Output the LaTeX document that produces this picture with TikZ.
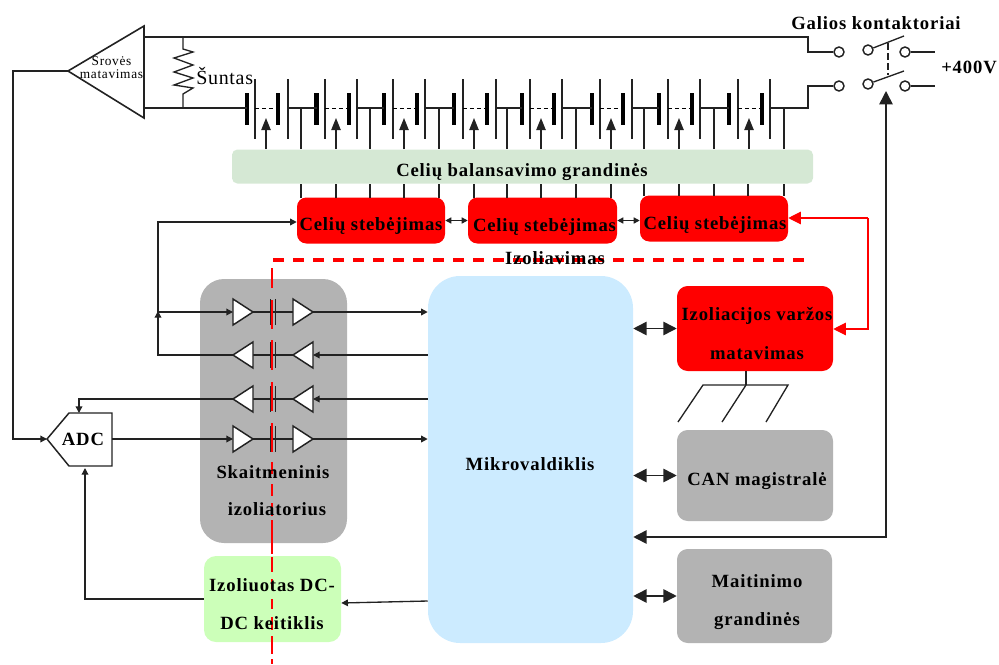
\documentclass[tikz,border=0pt]{standalone}
\usepackage{fontspec}
\setmainfont{Liberation Serif}
\newfontfamily\lbl[LetterSpace=4.5,BoldFont={Liberation Serif Bold}]{Liberation Serif}
\newfontfamily\lblsm[LetterSpace=5]{Liberation Serif}
\usetikzlibrary{arrows.meta,calc}
\definecolor{gbar}{HTML}{D5E8D4}
\definecolor{gbox}{HTML}{B3B3B3}
\definecolor{bbox}{HTML}{CCEBFF}
\definecolor{lgreen}{HTML}{CCFFB9}
\definecolor{wire}{HTML}{222222}
\tikzset{
 x=0.75pt,y=-0.75pt,
 wire/.style={draw=wire,line width=1pt},
 lead/.style={wire,-{Triangle[length=5pt,width=5pt]}},
 lead2/.style={wire,{Triangle[length=4.5pt,width=4.5pt]}-{Triangle[length=4.5pt,width=4.5pt]}},
 big2/.style={wire,line width=1.2pt,{Triangle[length=10pt,width=10pt]}-{Triangle[length=10pt,width=10pt]}},
 redlead/.style={draw=red,line width=0.8pt,-{Triangle[length=9.5pt,width=9.5pt]}},
 box/.style={inner sep=0pt,rounded corners=#1,draw=none,align=center},
 box/.default=8pt,
 txt/.style={font=\lbl\bfseries\fontsize{14}{15}\selectfont,text=black,inner sep=0pt,text height=9pt,text depth=3pt},
 sep/.style={draw=red,line width=2.4pt},
 sepv/.style={draw=red,line width=2.1pt},
 tri/.style={draw=wire,fill=white,line width=1.1pt,line join=miter},
 cell/.style={draw=wire,line width=1pt},
 plate/.style={draw=black,line width=3.4pt},
 term/.style={draw=wire,line width=1.1pt,circle,minimum size=7.5pt,inner sep=0pt}
}
% isolator row: #1 name, #2 y, #3 1 = points right, 0 = points left
\newcommand{\isorow}[3]{%
 \coordinate (#1a) at (233,#2); \coordinate (#1b) at (253,#2);
 \coordinate (#1c) at (293,#2); \coordinate (#1d) at (313,#2);
 \draw[wire] (#1b) -- (#1c);
 \draw[draw=wire,line width=1pt] (270.5,#2-13) -- (270.5,#2+13) (275.5,#2-13) -- (275.5,#2+13);
 \ifnum#3=1
  \draw[tri] (233,#2-13) -- (253,#2) -- (233,#2+13) -- cycle;
  \draw[tri] (293,#2-13) -- (313,#2) -- (293,#2+13) -- cycle;
 \else
  \draw[tri] (253,#2-13) -- (233,#2) -- (253,#2+13) -- cycle;
  \draw[tri] (313,#2-13) -- (293,#2) -- (313,#2+13) -- cycle;
 \fi}
\begin{document}
\begin{tikzpicture}
\useasboundingbox (0,0) rectangle (999,664);
% boxes
\node[box=4pt,fill=gbar,minimum width=435.75pt,minimum height=25.5pt] (bal) at (522.5,166.5) {};
\node[box=7pt,fill=red,minimum width=111pt,minimum height=34.5pt] (m1) at (371,220.5) {};
\node[box=7pt,fill=red,minimum width=111.75pt,minimum height=34.5pt] (m2) at (542.5,220.5) {};
\node[box=7pt,fill=red,minimum width=111pt,minimum height=34.5pt] (m3) at (714,218.5) {};
\node[box=18pt,fill=gbox,minimum width=110.25pt,minimum height=198pt] (iso) at (273.5,411) {};
\node[box=24pt,fill=bbox,minimum width=153.75pt,minimum height=275.25pt] (mc) at (530.5,459.5) {};
\node[box=8pt,fill=red,minimum width=117pt,minimum height=63.75pt] (riso) at (755,328.5) {};
\node[box=8pt,fill=gbox,minimum width=117pt,minimum height=68.25pt] (can) at (755,475.5) {};
\node[box=8pt,fill=gbox,minimum width=116.25pt,minimum height=70.5pt] (pwr) at (754.5,596) {};
\node[box=9pt,fill=lgreen,minimum width=102.75pt,minimum height=64.5pt] (dc) at (272.5,599) {};
% battery string
\foreach \t/\l in {247/255,278/288,316.5/325,349/357,384/393,417/425,454/463,487/496,522/530,554/562,592/600,623/632,659/668,692/700,729/738,762/770}{
 \draw[plate] (\t,93) -- (\t,125);
 \draw[cell] (\l,79) -- (\l,139);
}
\foreach \a/\b in {255/278,325/349,393/417,463/487,530/554,600/623,668/692,738/762}
 \draw[draw=black,line width=0.7pt,dash pattern=on 3pt off 2.2pt] (\a,108) -- (\b,108);
\foreach \a/\b in {288/316.5,357/384,425/454,496/522,562/592,632/659,700/729}
 \draw[cell] (\a,108) -- (\b,108);
\coordinate (bt1) at (247,108);
% monitoring / balancing ties
\foreach \x in {301,370,439,507,576,644,714,784}
 \draw[cell] (\x,108) -- (\x,149);
\foreach \x in {266,336,404,474,541,611,679,749}
 \draw[wire,-{Triangle[length=9pt,width=7pt]}] (\x,149) -- (\x,118);
\foreach \x in {301,336,370,404,439}
 \draw[cell] (\x,184) -- (\x,198);
\foreach \x in {474,507,541,576,611}
 \draw[cell] (\x,184) -- (\x,198);
\foreach \x in {644,679,714,748,784}
 \draw[cell] (\x,184) -- (\x,196);
% current sensor
\coordinate (ampA) at (68,71);
\draw[draw=wire,line width=1.2pt,line join=miter] (ampA) -- (144,26) -- (144,118) -- cycle;
\coordinate (ampT) at (144,37); \coordinate (ampB) at (144,108);
\node[font=\lblsm\fontsize{10}{9.75}\selectfont,align=center,inner sep=0pt] (srv) at (111.5,68) {Srovės\\matavimas};
\coordinate (rT) at (183,37); \coordinate (rB) at (183,108);
\draw[wire] (rT) -- (183,49) -- (193,52) -- (174,58) -- (193,65) -- (174,72) -- (193,78) -- (174,85) -- (193,88) -- (183,94) -- (rB);
\node[font=\fontsize{15}{16}\selectfont,inner sep=0pt,anchor=west] (sun) at (196,76) {\addfontfeature{LetterSpace=3.5}Šuntas};
\draw[wire] (ampB) -- (bt1);
% contactors
\node[term] (c1) at (839,52) {};
\node[term] (c2) at (868,50) {};
\node[term] (c3) at (905,52) {};
\node[term] (c4) at (839,86) {};
\node[term] (c5) at (868,84) {};
\node[term] (c6) at (905,86) {};
\coordinate (o1) at (935,52); \coordinate (o2) at (935,86);
\coordinate (l1) at (904,36); \coordinate (l2) at (904,71);
\draw[wire] (ampT) -- (808,37) -- (808,52) -- (c1);
\draw[wire] (770,108) -- (808,108) -- (808,86) -- (c4);
\draw[wire] (c3) -- (o1); \draw[wire] (c6) -- (o2);
\draw[wire] (c2) -- (l1); \draw[wire] (c5) -- (l2);
\draw[wire,dash pattern=on 5pt off 2.5pt] (888,43) -- (888,75);
% inter-monitor arrows
\draw[lead2] (m1) -- (m2);
\draw[lead2] (m2.east) -- (m3.west |- m2.east);
% signal rows
\isorow{ra}{312}{1}
\isorow{rb}{355}{0}
\isorow{rc}{399}{0}
\isorow{rd}{439}{1}
% ADC
\draw[draw=wire,fill=white,line width=1.1pt,line join=miter] (47,439) -- (69,413) -- (112,413) -- (112,466) -- (69,466) -- cycle;
\coordinate (adcW) at (47,439); \coordinate (adcE) at (112,439); \coordinate (adcN) at (79,413); \coordinate (adcS) at (85,468);
\draw[lead] (ampA) -- (13,71) -- (13,439) -- (adcW);
\coordinate (bus) at (158,222);
\draw[lead] (rba) -| (bus) -- (m1.west |- bus);
\draw[lead] (158,312) -- (raa);
\draw[wire,-{Triangle[length=5pt,width=5pt]}] (158,318) -- (158,311);
\draw[lead] (rad) -- (mc.west |- rad);
\draw[lead] (mc.west |- rbd) -- (rbd);
\draw[lead] (mc.west |- rcd) -- (rcd);
\draw[lead] (rca) -- (79,399) -- (adcN);
\draw[lead] (adcE) -- (rda);
\draw[lead] (rdd) -- (mc.west |- rdd);
\draw[lead] (dc.west) -- (85,599) -- (adcS);
\draw[lead] (mc.west |- 0,601) -- (dc.east |- 0,603);
% right-hand links
\draw[big2] (mc.east |- riso.west) -- (riso.west);
\draw[big2] (mc.east |- can.west) -- (can.west);
\draw[big2] (mc.east |- pwr.west) -- (pwr.west);
\draw[big2] (mc.east |- 0,537) -- (886,537) -- (886,91);
\draw[redlead] (868,218) -- (m3.east |- 0,218);
\draw[redlead] (868,218) -- (868,329) -- (riso.east |- 0,329);
% ground
\coordinate (g) at (746,385);
\draw[wire] (riso.south -| g) -- (g);
\draw[wire] (678,422) -- (703,385) -- (788,385) -- (766,422);
\draw[wire] (g) -- (722,422);
% isolation barrier
\draw[sep,dash pattern=on 8pt off 7pt] (273,260) -- (808,260);
\foreach \a/\b in {268/288,300/329,340/370,382/411,423/452,462/474,484/496,503/516,520/554,557/572,579/589,599/609,617/630,636/654,659/664}
 \draw[sepv] (272,\a) -- (272,\b);
% labels
\node[txt] (t1) at (522,172.5) {Celių balansavimo grandinės};
\node[txt] (t2) at (371,226.5) {Celių stebėjimas};
\node[txt] (t3) at (544.5,227.5) {Celių stebėjimas};
\node[txt] (t4) at (715,225) {Celių stebėjimas};
\node[txt] (t5) at (555,260) {Izoliavimas};
\node[txt] (t6) at (876,25.5) {Galios kontaktoriai};
\node[txt] (t7) at (969,69) {+400V};
\node[txt] (t8) at (530,466) {Mikrovaldiklis};
\node[txt] (t9) at (757,316.5) {Izoliacijos varžos};
\node[txt] (t10) at (757,355) {matavimas};
\node[txt] (t11) at (757,481) {CAN magistralė};
\node[txt] (t12) at (757,583.5) {Maitinimo};
\node[txt] (t13) at (757,621) {grandinės};
\node[txt] (t14) at (273,474) {Skaitmeninis};
\node[txt] (t15) at (277,511.5) {izoliatorius};
\node[txt] (t16) at (272,587) {Izoliuotas DC-};
\node[txt] (t17) at (272,625) {DC keitiklis};
\node[txt] (t18) at (83,441) {ADC};
\end{tikzpicture}
\end{document}
